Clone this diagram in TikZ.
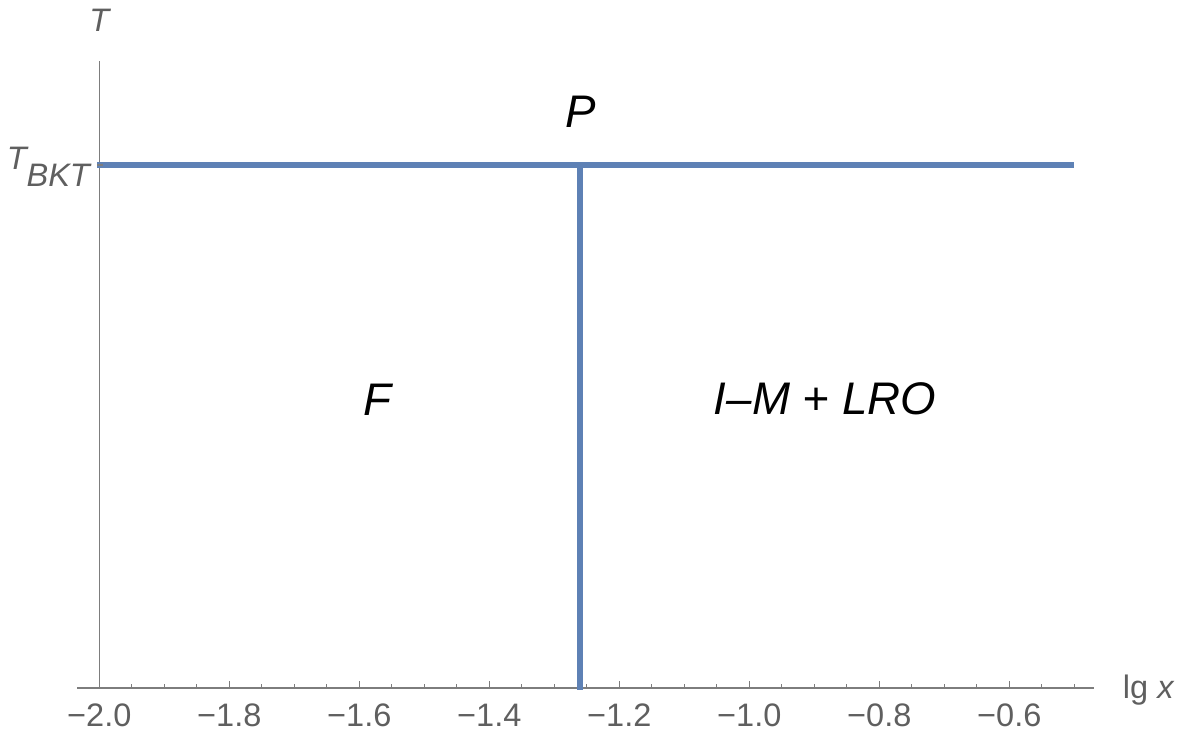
\documentclass[tikz,border=0pt]{standalone}
\usepackage{fontspec}
\setmainfont{Liberation Sans}
\usetikzlibrary{positioning}
\definecolor{plotblue}{RGB}{94,129,181}
\definecolor{axgray}{RGB}{125,125,125}
\definecolor{labgray}{RGB}{95,95,95}

\begin{document}
\begin{tikzpicture}[x=13cm, y=10.46cm,
  axis/.style={draw=axgray, line width=0.7pt},
  phase/.style={draw=plotblue, line width=3.4pt},
  ticklab/.style={text=labgray, font=\fontsize{18.5}{22}\selectfont, inner sep=0pt},
  axlab/.style={text=labgray, font=\fontsize{18.5}{22}\selectfont, inner sep=0pt},
  region/.style={font=\fontsize{26}{31}\selectfont\itshape, inner sep=0pt}]
\useasboundingbox (-2.1528,-0.0994) rectangle (-0.3297,1.3155);
% axes
\coordinate (xstart) at (-2.034,0);
\coordinate (xend) at (-0.470,0);
\coordinate (ystart) at (-2,0);
\coordinate (yend) at (-2,1.199);
\draw[axis] (xstart) -- (xend);
\draw[axis] (ystart) -- (yend);
\foreach \i in {0,...,30}
  \draw[axis] ({-2+0.05*\i},0) -- ++(0,0.08cm);
\foreach \v/\s in {-2.0/2.0,-1.8/1.8,-1.6/1.6,-1.4/1.4,-1.2/1.2,-1.0/1.0,-0.8/0.8,-0.6/0.6}{
  \draw[axis] (\v,0) -- ++(0,0.14cm);
  \node[ticklab] (tick\s) at (\v,-0.0516) {−\s};
}
\node[axlab] (tlab) at (-2,1.277) {\itshape T};
\node[axlab, anchor=west] (xlab) at (-0.4257,-0.004) {lg \itshape x};
\node[axlab, anchor=east] (tbkt) at (-2.014,0.996) {\itshape T\raisebox{-0.34cm}{BKT}};
% phase boundaries
\coordinate (tleft) at (-2.003,1);
\coordinate (tright) at (-0.5,1);
\coordinate (tjoin) at (-1.26,1);
\coordinate (tbot) at (-1.26,-0.004);
\draw[phase] (tleft) -- (tright);
\draw[phase] (tjoin) -- (tbot);
\draw[axis] (tleft) -- ++(0.12cm,0);
% phases
\node[region] (pP) at (-1.259,1.101) {P};
\node[region] (pF) at (-1.5728,0.5507) {F};
\node[region] (pIM) at (-0.8835,0.5526) {I–M + LRO};
\end{tikzpicture}
\end{document}
